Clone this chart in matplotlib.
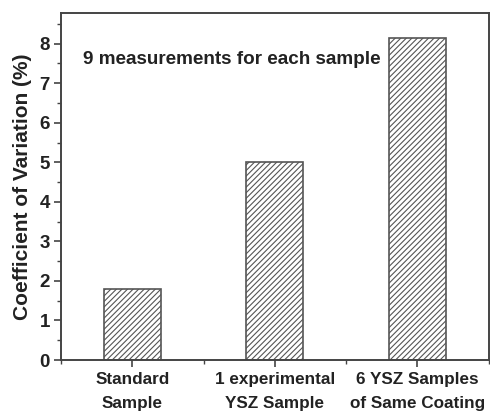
import matplotlib.pyplot as plt
from matplotlib.ticker import MultipleLocator

plt.rcParams['font.family'] = 'Liberation Sans'
plt.rcParams['font.weight'] = 'bold'
plt.rcParams['hatch.color'] = '#555555'
plt.rcParams['hatch.linewidth'] = 0.8

samples = ['Standard\nSample', '1 experimental\nYSZ Sample', '6 YSZ Samples\nof Same Coating']
cv = [1.8, 5.0, 8.15]
pos = [1, 2, 3]

fig = plt.figure(figsize=(4.9, 4.15), dpi=100)
ax = fig.add_axes([0.1245, 0.1325, 0.873, 0.8365])

ax.bar(pos, cv, width=0.4, color='white', edgecolor='#555555', linewidth=1.2, hatch='//////')

ax.set_xlim(0.5, 3.5)
ax.set_ylim(0, 8.78)
ax.set_xticks(pos)
ax.set_xticklabels(samples, fontsize=12.3, fontweight='bold', color='#222222', linespacing=1.75)
ax.xaxis.set_minor_locator(MultipleLocator(1, offset=0.5))
ax.yaxis.set_major_locator(MultipleLocator(1))
ax.yaxis.set_minor_locator(MultipleLocator(0.5))
ax.tick_params(axis='both', which='major', direction='out', length=5, width=1.2, colors='#444444', labelcolor='#222222')
ax.tick_params(axis='both', which='minor', direction='out', length=3, width=1.0, colors='#444444')
ax.tick_params(axis='y', labelsize=13.5, pad=3)
for s in ax.spines.values():
    s.set_linewidth(1.4)
    s.set_color('#444444')

ax.set_ylabel('Coefficient of Variation (%)', fontsize=15, fontweight='bold', color='#222222', labelpad=5)
ax.text(0.655, 7.6, '9 measurements for each sample', fontsize=13.6, fontweight='bold',
        color='#222222', va='center', ha='left')

plt.savefig('out.png', dpi=100)
